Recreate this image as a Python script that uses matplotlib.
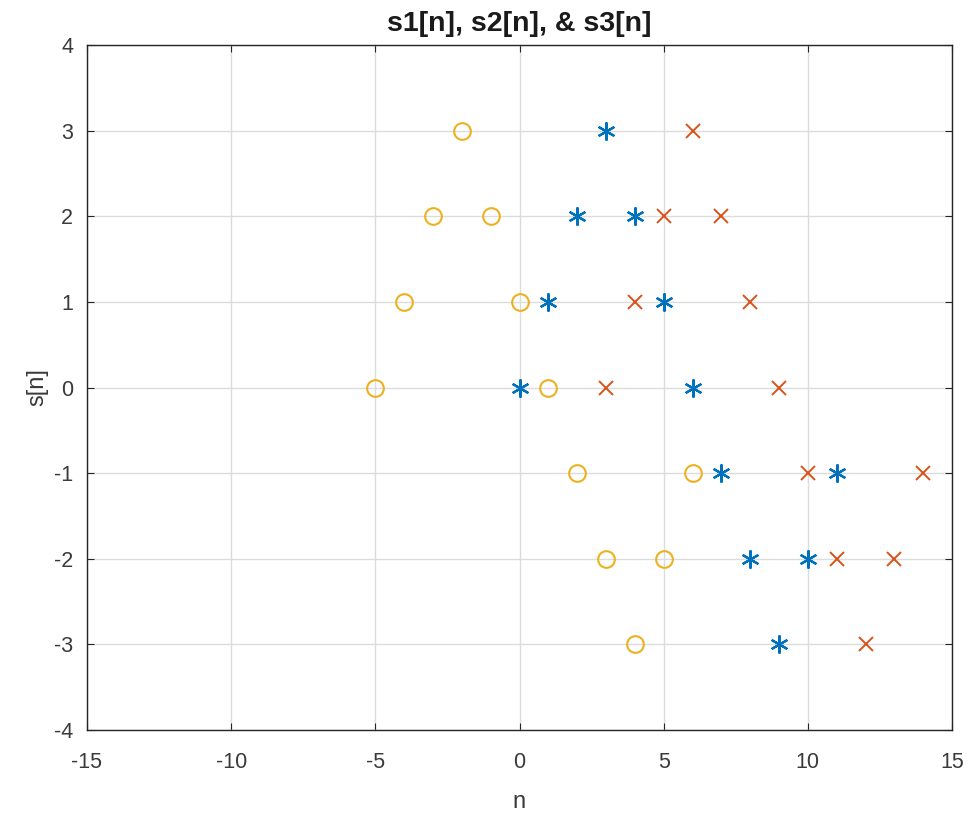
import matplotlib
matplotlib.use("Agg")
import matplotlib.pyplot as plt

n1 = [0, 1, 2, 3, 4, 5, 6, 7, 8, 9, 10, 11]
s1 = [0, 1, 2, 3, 2, 1, 0, -1, -2, -3, -2, -1]
n2 = [3, 4, 5, 6, 7, 8, 9, 10, 11, 12, 13, 14]
s2 = [0, 1, 2, 3, 2, 1, 0, -1, -2, -3, -2, -1]
n3 = [-5, -4, -3, -2, -1, 0, 1, 2, 3, 4, 5, 6]
s3 = [0, 1, 2, 3, 2, 1, 0, -1, -2, -3, -2, -1]

plt.rcParams['font.family'] = ['Liberation Sans', 'DejaVu Sans']
plt.rcParams['axes.unicode_minus'] = False

fig = plt.figure(figsize=(9.75, 8.19), dpi=100)
ax = fig.add_axes([87/975, 1 - 730/819, (952 - 87)/975, (730 - 45)/819])

ax.plot(n1, s1, linestyle='none', marker=(6, 2, 0), markersize=13, color='#0072BD',
        markeredgewidth=1.6)
ax.plot(n2, s2, linestyle='none', marker='x', markersize=10, color='#D95319',
        markeredgewidth=1.4)
ax.plot(n3, s3, linestyle='none', marker='o', markersize=12, color='#EDB120',
        markerfacecolor='none', markeredgewidth=1.5)

ax.set_xlim(-15, 15)
ax.set_ylim(-4, 4)
ax.set_xticks(range(-15, 16, 5))
ax.set_yticks(range(-4, 5, 1))
ax.grid(True, color='#dcdcdc', linewidth=1.0)
ax.set_axisbelow(True)
for sp in ax.spines.values():
    sp.set_color('#262626')
    sp.set_linewidth(1.0)
ax.tick_params(direction='in', length=5, colors='#262626', labelsize=15.5,
               top=True, right=True)
ax.tick_params(axis='x', pad=16)
ax.tick_params(axis='y', pad=10)
for lbl in ax.get_xticklabels() + ax.get_yticklabels():
    lbl.set_color('#3a3a3a')

ax.set_title('s1[n], s2[n], & s3[n]', fontsize=20.5, fontweight='bold', color='#1a1a1a', pad=10)
ax.set_xlabel('n', fontsize=17, color='#3a3a3a', labelpad=13)
ax.set_ylabel('s[n]', fontsize=17, color='#3a3a3a', labelpad=4)

fig.savefig('out.png', dpi=100)
